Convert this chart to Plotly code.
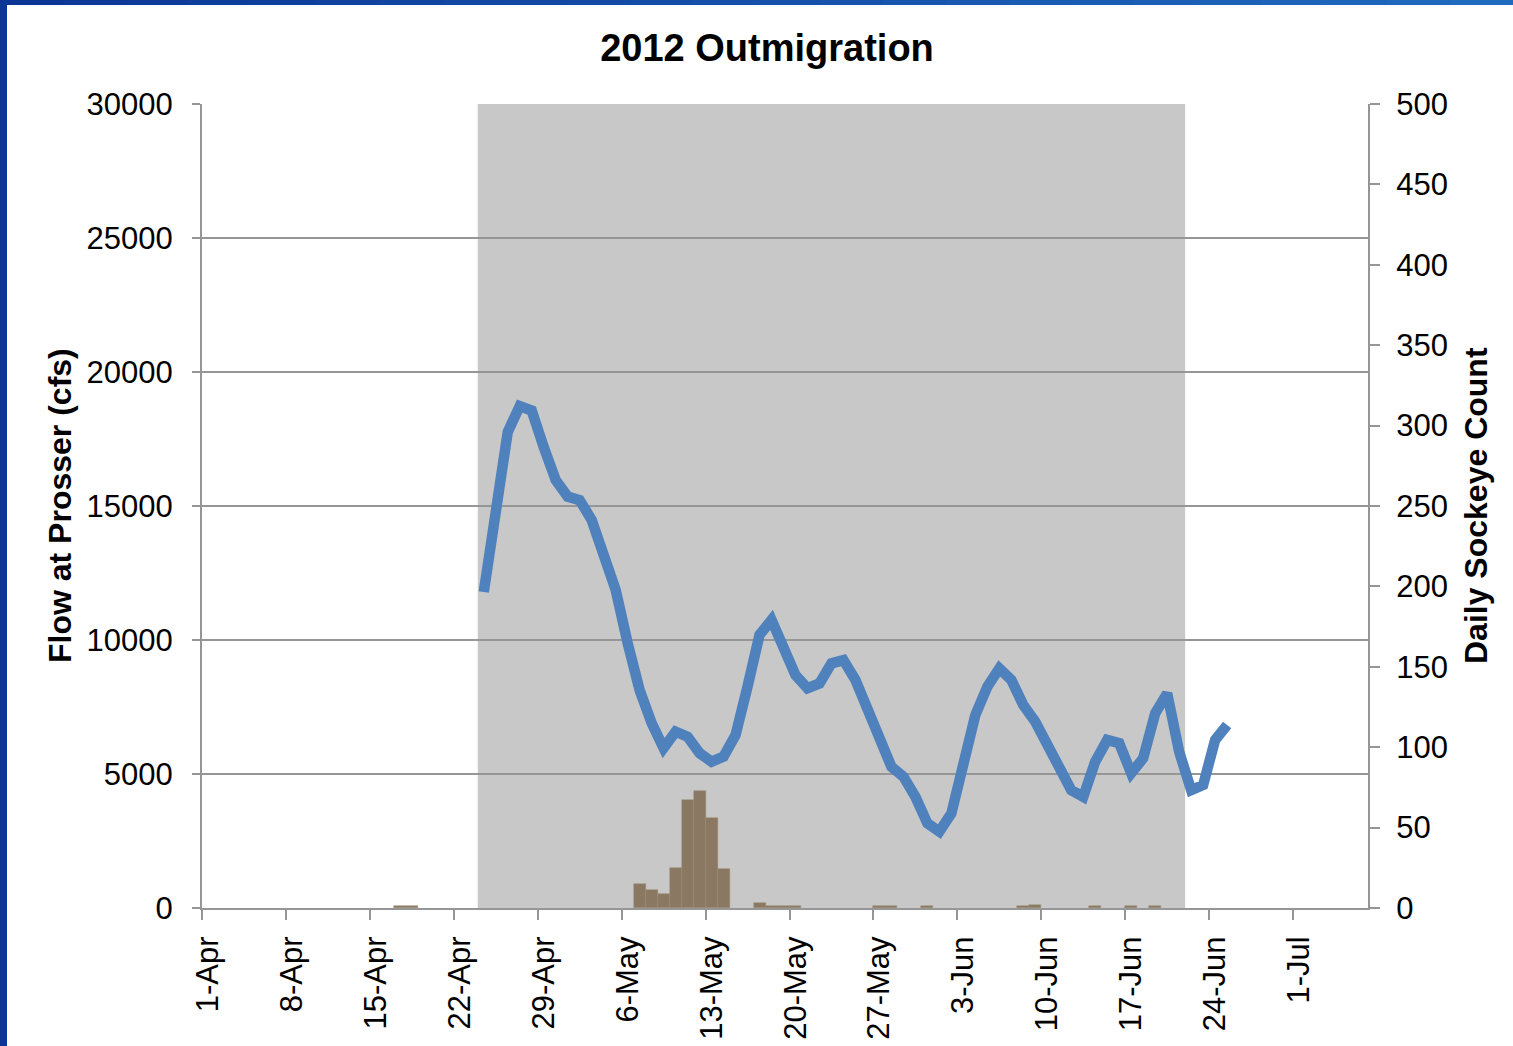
import pandas as pd
import plotly.graph_objects as go

# Daily flow at Prosser (cfs), 24-Apr to 25-Jun 2012
flow_start = '2012-04-24'
flow_cfs = [
    11790, 14960, 17760, 18730, 18560, 17200, 15970, 15350, 15220, 14480,
    13110, 11870, 9890, 8130, 6900, 5970, 6580, 6390, 5780, 5460,
    5650, 6450, 8260, 10190, 10750, 9750, 8690, 8200, 8380, 9130,
    9250, 8510, 7390, 6150, 5270, 4900, 4150, 3160, 2850, 3530,
    5340, 7200, 8260, 8940, 8510, 7570, 6950, 6080, 5210, 4400,
    4150, 5460, 6270, 6150, 5030, 5590, 7260, 8010, 5830, 4400,
    4590, 6270, 6830,
]

# Daily sockeye counts (only days with fish)
count_dates = [
    '2012-04-17', '2012-04-18', '2012-05-07', '2012-05-08', '2012-05-09',
    '2012-05-10', '2012-05-11', '2012-05-12', '2012-05-13', '2012-05-14',
    '2012-05-17', '2012-05-18', '2012-05-19', '2012-05-20', '2012-05-27',
    '2012-05-28', '2012-05-31', '2012-06-08', '2012-06-09', '2012-06-14',
    '2012-06-17', '2012-06-19',
]
sockeye_counts = [1, 1, 15, 11, 9, 25, 67, 73, 56, 24, 3, 1, 1, 1, 1, 1, 1, 1, 2, 1, 1, 1]

# shaded sampling period
shade_start = '2012-04-24'
shade_end = '2012-06-22'

tick_dates = pd.date_range('2012-04-01', '2012-07-01', freq='7D')
tick_text = [f'{d.day}-{d.strftime("%b")}' for d in tick_dates]

half_day = pd.Timedelta(hours=12)
flow_x = pd.date_range(flow_start, periods=len(flow_cfs), freq='D') + half_day
count_x = pd.to_datetime(count_dates) + half_day

GRID = '#969696'
FONT = 'Arial, Liberation Sans, sans-serif'

fig = go.Figure()
fig.add_trace(
    go.Scatter(
        x=flow_x,
        y=flow_cfs,
        mode='lines',
        line=dict(color='#4F81BD', width=10.5),
        yaxis='y',
        showlegend=False,
    )
)
fig.add_trace(
    go.Bar(
        x=count_x,
        y=sockeye_counts,
        width=86400000,
        marker=dict(color='#8B7862', line=dict(color='#9A8873', width=0.5)),
        yaxis='y2',
        showlegend=False,
    )
)

fig.add_vrect(
    x0=shade_start, x1=shade_end, fillcolor='#C8C8C8', line_width=0,
    layer='below', opacity=1,
)

# blue frame of the slide (top strip and left strip)
W, H = 1513, 1046
L, R, T, B = 202, 145, 104, 138
pw, ph = W - L - R, H - T - B


def px_x(p):
    return (p - L) / pw


def px_y(p):
    return (H - B - p) / ph


n = 24
for k in range(n):
    t = k / (n - 1)
    c0, c1 = (12, 54, 150), (30, 106, 190)
    col = 'rgb({},{},{})'.format(*[round(a + (b - a) * t) for a, b in zip(c0, c1)])
    fig.add_shape(
        type='rect', xref='paper', yref='paper',
        x0=px_x(W * k / n), x1=px_x(W * (k + 1) / n + 1),
        y0=px_y(5), y1=px_y(0),
        fillcolor=col, line_width=0, layer='above',
    )
fig.add_shape(
    type='rect', xref='paper', yref='paper',
    x0=px_x(0), x1=px_x(7), y0=px_y(H), y1=px_y(0),
    fillcolor='rgb(12,54,150)', line_width=0, layer='above',
)

fig.add_annotation(
    text='<b>Flow at Prosser (cfs)</b>', xref='paper', yref='paper',
    x=px_x(60), y=0.5, xanchor='center', yanchor='middle',
    textangle=-90, showarrow=False,
    font=dict(size=32, color='black', family=FONT),
)
fig.add_annotation(
    text='<b>Daily Sockeye Count</b>', xref='paper', yref='paper',
    x=px_x(1476), y=0.5, xanchor='center', yanchor='middle',
    textangle=-90, showarrow=False,
    font=dict(size=32, color='black', family=FONT),
)

fig.update_layout(
    width=W,
    height=H,
    margin=dict(l=L, r=R, t=T, b=B, autoexpand=False),
    paper_bgcolor='white',
    plot_bgcolor='white',
    font=dict(family=FONT, size=31, color='black'),
    title=dict(
        text='<b>2012 Outmigration</b>', x=767 / W, xanchor='center', xref='container',
        y=1 - 48 / H, yanchor='middle', font=dict(size=38, color='black'),
    ),
    bargap=0,
    xaxis=dict(
        type='date',
        range=['2012-04-01', '2012-07-07 06:00'],
        tickvals=tick_dates,
        ticktext=tick_text,
        tickangle=-90,
        ticks='outside', ticklen=10, tickcolor=GRID, tickwidth=2,
        showline=True, linecolor=GRID, linewidth=2,
        showgrid=False, zeroline=False,
        ticklabelstandoff=4, ticklabelshift=6, automargin=False,
    ),
    yaxis=dict(
        range=[0, 30000], dtick=5000, tickformat='d',
        showgrid=True, gridcolor=GRID, gridwidth=2,
        ticks='outside', ticklen=8, tickcolor=GRID, tickwidth=2,
        showline=True, linecolor=GRID, linewidth=2,
        zeroline=False, ticklabelstandoff=13, automargin=False,
    ),
    yaxis2=dict(
        range=[0, 500], dtick=50, overlaying='y', side='right',
        showgrid=False, zeroline=False,
        ticks='outside', ticklen=10, tickcolor=GRID, tickwidth=2,
        showline=True, linecolor=GRID, linewidth=2,
        ticklabelstandoff=10, automargin=False,
    ),
)

fig.write_html(
    'out.html',
    config={'displayModeBar': False},
    post_script="document.body.style.margin='0';",
)
